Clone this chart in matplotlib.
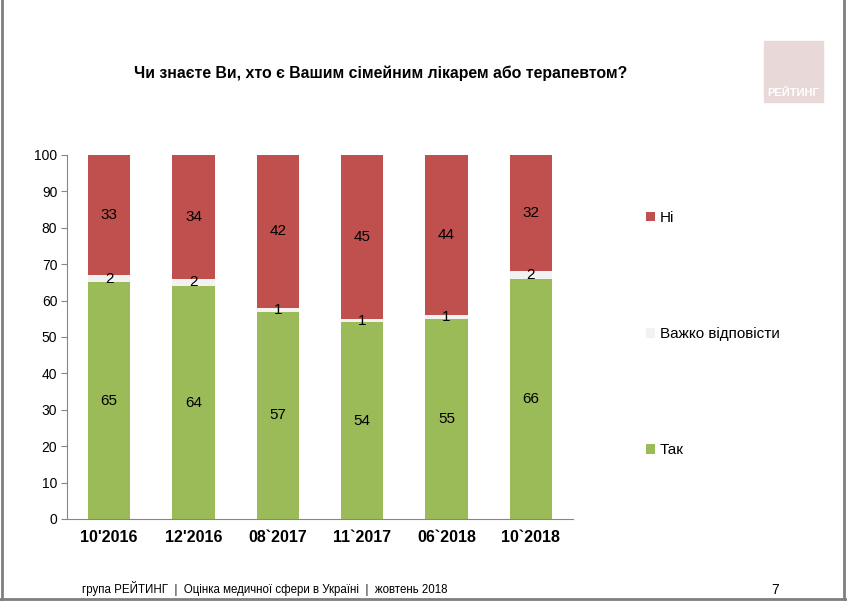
import numpy as np
import matplotlib.pyplot as plt
from matplotlib.patches import Rectangle
from matplotlib.lines import Line2D

plt.rcParams['font.family'] = ['Liberation Sans', 'DejaVu Sans']

periods = ["10'2016", "12'2016", "08`2017", "11`2017", "06`2018", "10`2018"]
tak = [65, 64, 57, 54, 55, 66]
vazhko = [2, 2, 1, 1, 1, 2]
ni = [33, 34, 42, 45, 44, 32]

c_tak = '#9BBB59'
c_vazhko = '#F2F2F2'
c_ni = '#C0504D'

fig = plt.figure(figsize=(8.47, 6.01), dpi=100)
ax = fig.add_axes([67/847, 82/601, 506/847, 364/601])

x = np.arange(len(periods))
w = 0.5
b1 = ax.bar(x, tak, w, color=c_tak, label='Так')
b2 = ax.bar(x, vazhko, w, bottom=tak, color=c_vazhko, label='Важко відповісти')
bot3 = np.array(tak) + np.array(vazhko)
b3 = ax.bar(x, ni, w, bottom=bot3, color=c_ni, label='Ні')

for bars, vals in ((b1, tak), (b2, vazhko), (b3, ni)):
    for r, v in zip(bars, vals):
        ax.text(r.get_x() + r.get_width() / 2, r.get_y() + r.get_height() / 2, str(v),
                ha='center', va='center', fontsize=11, color='black')

ax.set_xlim(-0.5, len(periods) - 0.5)
ax.set_ylim(0, 100)
ax.set_yticks(range(0, 101, 10))
ax.tick_params(axis='y', labelsize=10, length=4, color='#868686', pad=3)
ax.set_xticks(x)
ax.set_xticklabels(periods, fontsize=11.5, fontweight='bold')
ax.tick_params(axis='x', length=0, pad=8)
for s in ('top', 'right'):
    ax.spines[s].set_visible(False)
ax.spines['left'].set_color('#868686')
ax.spines['bottom'].set_color('#868686')

# legend, reversed order
handles = [b3, b2, b1]
labels = ['Ні', 'Важко відповісти', 'Так']
leg = fig.legend(handles, labels, loc='upper left', bbox_to_anchor=(632/847, 1 - 197/601),
                 frameon=False, fontsize=11, handlelength=0.6, handleheight=0.6,
                 handletextpad=0.3, labelspacing=6.7)

fig.text(381/847, 1 - 73/601, 'Чи знаєте Ви, хто є Вашим сімейним лікарем або терапевтом?',
         ha='center', va='center', fontsize=11.4, fontweight='bold')

# logo
fig.patches.append(Rectangle((764/847, 1 - 102/601), 59/847, 61/601,
                             transform=fig.transFigure, color='#E8D8D8', zorder=0))
fig.text(793/847, 1 - 93/601, 'РЕЙТИНГ', ha='center', va='center', fontsize=8,
         fontweight='bold', color='white')

# footer
fig.text(82/847, 1 - 588/601, 'група РЕЙТИНГ  |  Оцінка медичної сфери в Україні  |  жовтень 2018',
         ha='left', va='center', fontsize=8.3, color='black')
fig.text(775/847, 1 - 590/601, '7', ha='center', va='center', fontsize=10)

# slide frame: left, right, bottom
for xs, ys in (([0.002, 0.002], [0, 1]), ([0.996, 0.996], [0, 1]), ([0, 1], [0.003, 0.003])):
    fig.add_artist(Line2D(xs, ys, transform=fig.transFigure, color='#7F7F7F', linewidth=2))

fig.savefig('out.png', dpi=100)
